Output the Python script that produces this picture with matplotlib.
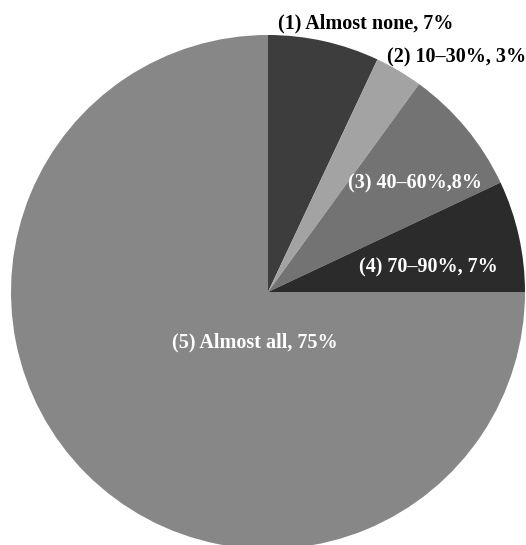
import matplotlib
matplotlib.use("Agg")
import matplotlib.pyplot as plt

# Share of respondents by answer
categories = ["(1) Almost none", "(2) 10–30%", "(3) 40–60%", "(4) 70–90%", "(5) Almost all"]
shares = [7, 3, 8, 7, 75]
label_texts = ["(1) Almost none, 7%", "(2) 10–30%, 3%", "(3) 40–60%,8%",
               "(4) 70–90%, 7%", "(5) Almost all, 75%"]
colors = ["#3d3d3d", "#a3a3a3", "#737373", "#2b2b2b", "#878787"]
text_colors = ["black", "black", "white", "white", "white"]
# label anchor points in pie units (radius = 1)
label_pos = [(0.381, 1.045), (0.735, 0.911), (0.572, 0.424), (0.623, 0.097), (-0.051, -0.198)]

W, H, DPI = 526, 545, 100
fig = plt.figure(figsize=(W / DPI, H / DPI), dpi=DPI)
ax = fig.add_axes([0, 0, 1, 1])

ax.pie(shares, colors=colors, startangle=90, counterclock=False,
       radius=1.0, center=(0, 0), wedgeprops=dict(linewidth=0))

for txt, (x, y), c in zip(label_texts, label_pos, text_colors):
    ax.text(x, y, txt, ha="center", va="center", color=c,
            fontsize=14.5, fontweight="bold", family=["Liberation Serif", "DejaVu Serif"])

# pie centre sits at pixel (268, 292) with a 257 px radius
R = 257.0
cx, cy = 268.0, 292.0
ax.set_xlim(-cx / R, (W - cx) / R)
ax.set_ylim(-(H - cy) / R, cy / R)
ax.set_aspect("equal")
ax.axis("off")

fig.savefig("out.png", dpi=DPI, facecolor="white")
